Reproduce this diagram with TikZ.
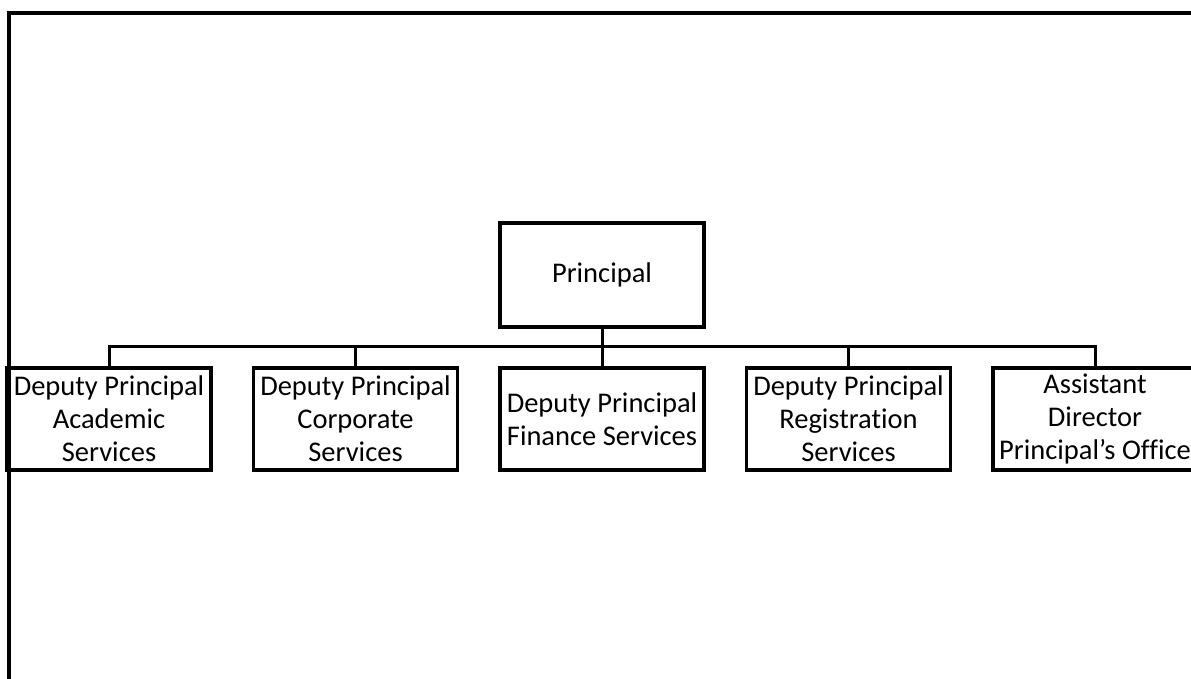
\documentclass[tikz,border=0pt]{standalone}
\usepackage{fontspec}
\setmainfont{Carlito}[Ligatures=NoCommon]
\usetikzlibrary{positioning}

\begin{document}
\begin{tikzpicture}[x=1pt, y=-1pt, node distance=39pt,
  post/.style={draw, line width=3.5pt, minimum width=204pt, minimum height=102pt,
    inner sep=1pt, align=center, font=\fontsize{28.5}{33}\selectfont},
  link/.style={line width=3pt}]
  \useasboundingbox (0,0) rectangle (1191,679);
  % page frame
  \draw[line width=4pt] (9,679) -- (9,13) -- (1191,13);

  \node[post, minimum height=104pt] (principal) at (602,275) {Principal};
  \node[post] (dpf) at (602,419) {Deputy Principal\\Finance Services};
  \node[post, left=of dpf] (dpc) {Deputy Principal\\Corporate\\Services};
  \node[post, left=of dpc] (dpa) {Deputy Principal\\Academic\\Services};
  \node[post, right=of dpf] (dpr) {Deputy Principal\\Registration\\Services};
  \node[post, right=of dpr] (ado) {Assistant\\Director\\Principal’s Office};

  % reporting lines
  \path (principal.south) ++(0,18) coordinate (bus);
  \draw[link] (principal) -- (bus);
  \foreach \n in {dpa,dpc,dpf,dpr,ado}
    \draw[link] (bus) -| (\n.north);
\end{tikzpicture}
\end{document}
